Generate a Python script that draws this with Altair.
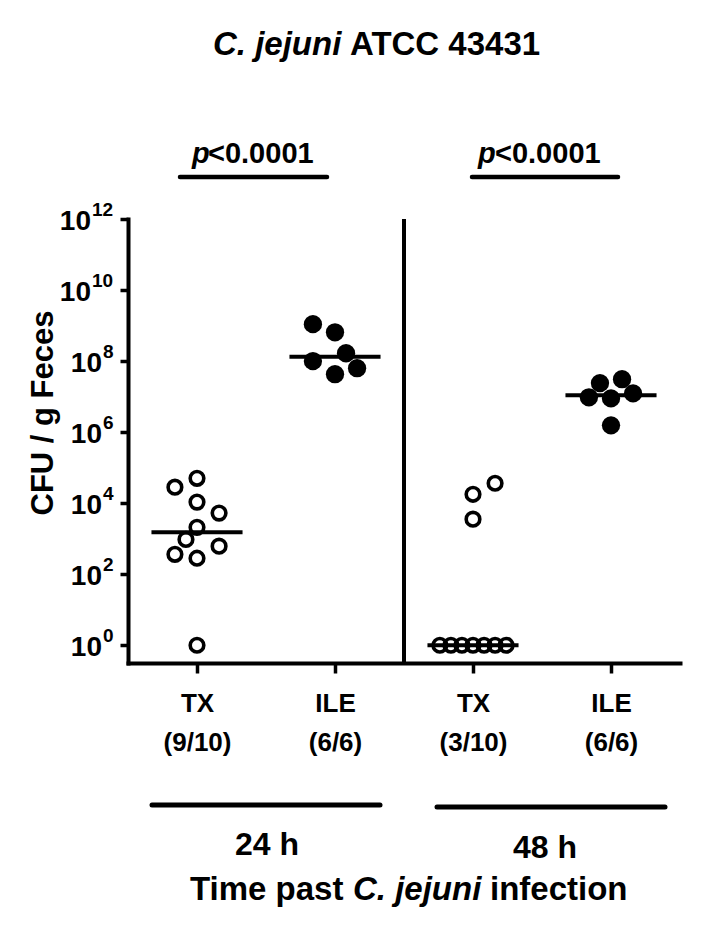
import altair as alt
import pandas as pd

FONT = "Liberation Sans"

# ---- data (log10 CFU / g feces) ----
group_idx = [0, 1, 2, 3]
group_kind = ["TX", "ILE", "TX", "ILE"]
tick_top = ["TX", "ILE", "TX", "ILE"]
tick_bottom = ["(9/10)", "(6/6)", "(3/10)", "(6/6)"]

tx24_log = [4.70, 4.45, 4.03, 3.72, 3.32, 2.98, 2.79, 2.56, 2.45, 0.0]
tx24_slot = [0, -1, 0, 1, 0, -0.5, 1, -1, 0, 0]
ile24_log = [9.04, 8.81, 8.22, 8.00, 7.80, 7.63]
ile24_slot = [-1, 0, 0.5, -1, 1, 0]
tx48_log = [4.56, 4.25, 3.55, 0.0, 0.0, 0.0, 0.0, 0.0, 0.0, 0.0]
tx48_slot = [1, 0, 0, -1.5, -1, -0.5, 0, 0.5, 1, 1.5]
ile48_log = [7.49, 7.38, 7.09, 6.98, 6.95, 6.19]
ile48_slot = [0.5, -0.5, 1, -1, 0, 0]

y_exps = [0, 2, 4, 6, 8, 10, 12]

title_italic = "C. jejuni"
title_rest = "ATCC 43431"
p_text = "<0.0001"
time_labels = ["24 h", "48 h"]
y_title = "CFU / g Feces"

rows = []
for g, logs, slots in zip(group_idx, [tx24_log, ile24_log, tx48_log, ile48_log],
                          [tx24_slot, ile24_slot, tx48_slot, ile48_slot]):
    for lv, s in zip(logs, slots):
        rows.append({"g": g, "kind": group_kind[g], "cfu": 10 ** lv, "slot": s})
df = pd.DataFrame(rows)

W, H = 552, 444

xsc = alt.Scale(domain=[0, 4], nice=False, zero=False)
ysc = alt.Scale(type="log", domain=[10 ** -0.5, 1e12], nice=False)

label_expr = " : ".join(
    [f"datum.value == {g + 0.5} ? ['{a}', '{b}']" for g, a, b in zip(group_idx, tick_top, tick_bottom)]
) + " : ''"

xax = alt.Axis(values=[g + 0.5 for g in group_idx], labelExpr=label_expr, title=None,
               grid=False, tickSize=10, tickWidth=3.5, tickColor="black",
               domainWidth=4, domainColor="black", domainCap="square",
               labelFont=FONT, labelFontSize=26, labelFontWeight="bold", labelColor="black",
               labelPadding=17, labelLineHeight=39, labelBaseline="top")
yax = alt.Axis(values=[10 ** e for e in y_exps], labels=False, title=None, grid=False,
               tickSize=8, tickWidth=3.5, tickColor="black",
               domainWidth=4, domainColor="black", domainCap="square")

base = alt.Chart(df).transform_calculate(xp="datum.g + 0.5 + datum.slot * 0.16")

open_pts = base.transform_filter("datum.kind == 'TX'").mark_point(
    shape="circle", filled=False, stroke="black", strokeWidth=3.6, size=185, opacity=1
).encode(x=alt.X("xp:Q", scale=xsc, axis=xax), y=alt.Y("cfu:Q", scale=ysc, axis=yax))

fill_pts = base.transform_filter("datum.kind == 'ILE'").mark_point(
    shape="circle", filled=True, fill="black", color="black", size=335, opacity=1
).encode(x=alt.X("xp:Q", scale=xsc, axis=xax), y=alt.Y("cfu:Q", scale=ysc, axis=yax))

medians = alt.Chart(df).transform_aggregate(med="median(cfu)", groupby=["g"]).transform_calculate(
    xa="datum.g + 0.5 - 0.33", xb="datum.g + 0.5 + 0.33"
).mark_rule(color="black", strokeWidth=4).encode(
    x=alt.X("xa:Q", scale=xsc, axis=xax), x2="xb:Q", y=alt.Y("med:Q", scale=ysc, axis=yax)
)

divider = alt.Chart(pd.DataFrame({"d": [2]})).mark_rule(color="black", strokeWidth=4).encode(
    x=alt.X("d:Q", scale=xsc, axis=xax), y=alt.Y(datum=1e12, scale=ysc, axis=yax), y2=alt.value(H)
)

# y tick labels 10^n
ylab = pd.DataFrame({"v": [10 ** e for e in y_exps], "e": [str(e) for e in y_exps],
                     "two": [e >= 10 for e in y_exps]})


def ylayer(two, is_exp):
    c = alt.Chart(ylab).transform_filter(f"datum.two == {'true' if two else 'false'}")
    if is_exp:
        m = c.mark_text(align="left", baseline="middle", font=FONT, fontWeight="bold",
                        fontSize=19, color="black", dy=-9)
        xv = -36 if two else -25
        return m.encode(x=alt.value(xv), y=alt.Y("v:Q", scale=ysc, axis=yax), text="e:N")
    m = c.mark_text(align="right", baseline="middle", font=FONT, fontWeight="bold",
                    fontSize=28, color="black", dy=3)
    xv = -37 if two else -26
    return m.encode(x=alt.value(xv), y=alt.Y("v:Q", scale=ysc, axis=yax), text=alt.value("10"))


def txt(s, x, y, size, italic=False, align="left", baseline="alphabetic", angle=0):
    kw = dict(align=align, baseline=baseline, fontSize=size, fontWeight="bold",
              fontStyle="italic" if italic else "normal", font=FONT, color="black")
    if angle:
        kw["angle"] = angle
    return alt.Chart(pd.DataFrame({"s": [s]})).mark_text(**kw).encode(
        x=alt.value(x), y=alt.value(y), text="s:N")


def hbar(x1, x2, y, w):
    return alt.Chart(pd.DataFrame({"k": [0]})).mark_rule(
        color="black", strokeWidth=w, strokeCap="round").encode(
        x=alt.value(x1), x2=alt.value(x2), y=alt.value(y))


layers = [
    divider, medians, open_pts, fill_pts,
    ylayer(True, False), ylayer(False, False), ylayer(True, True), ylayer(False, True),
    txt(title_italic, 85, -164, 33, italic=True),
    txt(title_rest, 222, -164, 33),
    txt("p", 64, -56, 29, italic=True), txt(p_text, 80, -56, 29),
    txt("p", 350, -56, 29, italic=True), txt(p_text, 367, -56, 29),
    hbar(52, 199, -42, 4.5), hbar(344, 490, -42, 4.5),
    hbar(24, 252, 586, 5), hbar(309, 537, 588, 5),
    txt(time_labels[0], 139, 636, 32, align="center"),
    txt(time_labels[1], 417, 639, 32, align="center"),
    txt("Time past", 62, 681, 33),
    txt("C. jejuni", 225, 681, 33, italic=True),
    txt("infection", 362, 681, 33),
    txt(y_title, -84, 194, 31, align="center", baseline="middle", angle=270),
]

chart = alt.layer(*layers).properties(
    width=W, height=H,
    padding={"left": 120, "top": 211, "right": 32, "bottom": 260},
    autosize=alt.AutoSizeParams(type="none"),
).configure(background="white").configure_view(strokeWidth=0, stroke="transparent")

chart.save("out.html", embed_options={"renderer": "svg", "actions": False})
